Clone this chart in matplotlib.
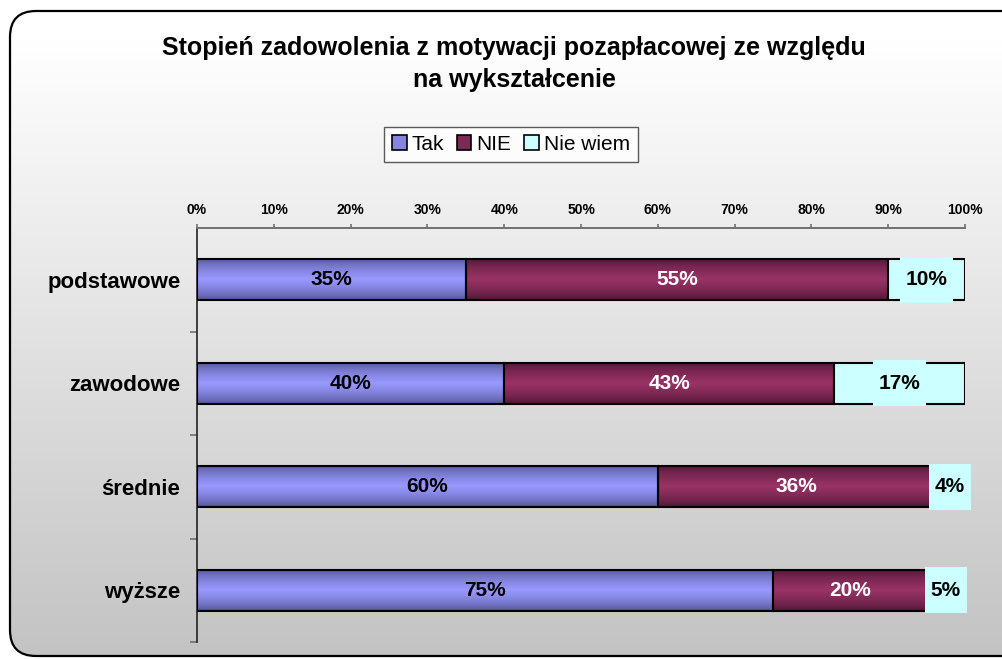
import numpy as np
import matplotlib
matplotlib.use("Agg")
import matplotlib.pyplot as plt
from matplotlib.patches import FancyBboxPatch, Patch
from matplotlib.path import Path

plt.rcParams['font.family'] = ['Liberation Sans', 'DejaVu Sans']

categories = ['podstawowe', 'zawodowe', 'średnie', 'wyższe']
tak = [35, 40, 60, 75]
nie = [55, 43, 36, 20]
nie_wiem = [10, 17, 4, 5]
series_names = ['Tak', 'NIE', 'Nie wiem']
xticks = list(range(0, 101, 10))

W, H = 1002, 659
fig = plt.figure(figsize=(W / 100, H / 100), dpi=100)
fig.patch.set_facecolor('white')

# background panel with gradient and rounded border
bg = fig.add_axes([0, 0, 1, 1], zorder=-10)
bg.set_xlim(0, W)
bg.set_ylim(H, 0)
bg.axis('off')
frame = FancyBboxPatch((10, 11), 1040, 645, boxstyle="round,pad=0,rounding_size=26",
                       facecolor='none', edgecolor='black', linewidth=1.6, zorder=3)
bg.add_patch(frame)
ys = np.linspace(0, 1, 300)
shade = np.clip(255 - np.clip((ys * H - 40) / 616, 0, 1) * 60, 0, 255) / 255
grad_bg = np.repeat(shade[:, None], 3, axis=1)[:, None, :]
im = bg.imshow(grad_bg, extent=(0, W, H, 0), aspect='auto', zorder=1)
im.set_clip_path(frame)

# main chart
ax = fig.add_axes([197 / W, 1 - 642 / H, 768 / W, 414 / H])
ax.set_facecolor('none')

y = np.arange(len(categories))
bar_h = 0.4
left_nie = [a for a in tak]
left_nw = [a + b for a, b in zip(tak, nie)]

def grad_colors(dark, light, n=64):
    t = np.linspace(0, 1, n)
    w = (1 - np.abs(2 * t - 1)) ** 0.55
    d = np.array(dark) / 255
    l = np.array(light) / 255
    return (d[None, :] * (1 - w[:, None]) + l[None, :] * w[:, None])[:, None, :]

b1 = ax.barh(y, tak, height=bar_h, color='none', edgecolor='black', linewidth=1.5, zorder=3)
b2 = ax.barh(y, nie, left=left_nie, height=bar_h, color='none', edgecolor='black',
             linewidth=1.5, zorder=3)
b3 = ax.barh(y, nie_wiem, left=left_nw, height=bar_h, color='#ccffff', edgecolor='black',
             linewidth=1.5, zorder=3)

for bars, g in [(b1, grad_colors((0x48, 0x48, 0x84), (0x99, 0x99, 0xff))),
                (b2, grad_colors((0x42, 0x12, 0x2c), (0x99, 0x33, 0x66)))]:
    for r in bars:
        x0, y0, w, h = r.get_x(), r.get_y(), r.get_width(), r.get_height()
        gim = ax.imshow(g, extent=(x0, x0 + w, y0 + h, y0), aspect='auto', zorder=2)
        gim.set_clip_path(r)

def tall_box(x0, y0, width, height, mutation_size):
    px = 0.28 * mutation_size
    py = 0.65 * mutation_size
    x0, y0 = x0 - px, y0 - py
    x1, y1 = x0 + width + 2 * px, y0 + height + 2 * py
    return Path([(x0, y0), (x1, y0), (x1, y1), (x0, y1), (x0, y0)],
                [Path.MOVETO, Path.LINETO, Path.LINETO, Path.LINETO, Path.CLOSEPOLY])

for i in range(len(categories)):
    ax.text(tak[i] / 2, y[i], f"{tak[i]}%", ha='center', va='center', fontsize=15,
            fontweight='bold', color='black', zorder=5)
    ax.text(left_nie[i] + nie[i] / 2, y[i], f"{nie[i]}%", ha='center', va='center',
            fontsize=15, fontweight='bold', color='white', zorder=5)
    ax.text(left_nw[i] + nie_wiem[i] / 2, y[i], f"{nie_wiem[i]}%", ha='center', va='center',
            fontsize=15, fontweight='bold', color='black', zorder=5,
            bbox=dict(boxstyle=tall_box, facecolor='#ccffff', edgecolor='none'))

ax.set_xlim(0, 100)
ax.set_ylim(len(categories) - 0.5, -0.5)
ax.xaxis.tick_top()
ax.set_xticks(xticks)
ax.set_xticklabels([f"{t}%" for t in xticks], fontsize=10, fontweight='bold')
ax.tick_params(axis='x', length=3, width=1.2, color='#707070', pad=5)
ax.set_yticks(y)
ax.set_yticklabels(categories, fontsize=16, fontweight='bold')
ax.tick_params(axis='y', which='major', length=0, pad=12)
ax.set_yticks(np.arange(len(categories)) + 0.5, minor=True)
ax.tick_params(axis='y', which='minor', length=5, width=1.2, color='#707070')
for s in ['right', 'bottom']:
    ax.spines[s].set_visible(False)
ax.spines['top'].set_color('#707070')
ax.spines['top'].set_linewidth(1.4)
ax.spines['left'].set_color('#222222')
ax.spines['left'].set_linewidth(1.2)

fig.text(514 / W, 1 - 64 / H,
         "Stopień zadowolenia z motywacji pozapłacowej ze względu\nna wykształcenie",
         ha='center', va='center', fontsize=18, fontweight='bold', linespacing=1.45)

handles = [Patch(facecolor='#8585e0', edgecolor='black', linewidth=1.2),
           Patch(facecolor='#7a2a55', edgecolor='black', linewidth=1.2),
           Patch(facecolor='#ccffff', edgecolor='black', linewidth=1.2)]
leg = fig.legend(handles, series_names, loc='center', bbox_to_anchor=(511 / W, 1 - 144.5 / H),
                 ncol=3, fontsize=15, frameon=True, fancybox=False, handlelength=0.7,
                 handleheight=0.7, handletextpad=0.25, columnspacing=0.6, borderpad=0.4)
leg.get_frame().set_edgecolor('#333333')
leg.get_frame().set_linewidth(1.0)
leg.get_frame().set_facecolor('white')

fig.savefig('out.png', dpi=100)
